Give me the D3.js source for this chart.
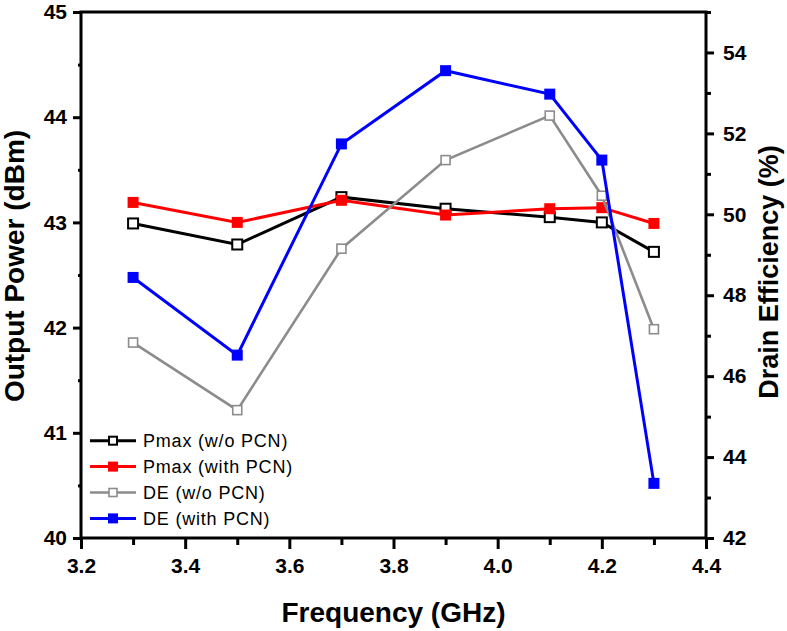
<!DOCTYPE html>
<html><head><meta charset="utf-8">
<script src="https://cdn.jsdelivr.net/npm/d3@7"></script>
<style>body{margin:0;background:#fff}</style>
</head><body><svg id="c" width="787" height="631"></svg>
<script>
const freq = [3.3, 3.5, 3.7, 3.9, 4.1, 4.2, 4.3];
const pmaxWo = [42.99, 42.79, 43.24, 43.13, 43.05, 43.0, 42.72];
const pmaxWith = [43.19, 43.0, 43.21, 43.07, 43.13, 43.14, 42.99];
const deWo = [46.83, 45.16, 49.15, 51.34, 52.44, 50.46, 47.16];
const deWith = [48.44, 46.52, 51.74, 53.55, 52.97, 51.34, 43.35];
const xTicks = [3.2, 3.4, 3.6, 3.8, 4.0, 4.2, 4.4];
const xMinor = [3.3, 3.5, 3.7, 3.9, 4.1, 4.3];
const yLeftTicks = [40, 41, 42, 43, 44, 45];
const yLeftMinor = [40.5, 41.5, 42.5, 43.5, 44.5];
const yRightTicks = [42, 44, 46, 48, 50, 52, 54];
const yRightMinor = [43, 45, 47, 49, 51, 53, 55];
const seriesNames = ["Pmax (w/o PCN)", "Pmax (with PCN)", "DE (w/o PCN)", "DE (with PCN)"];
const xTitle = "Frequency (GHz)";
const yLeftTitle = "Output Power (dBm)";
const yRightTitle = "Drain Efficiency (%)";

const svg = d3.select("#c");
const L = 81, R = 706, T = 12, B = 538;
const x = d3.scaleLinear().domain([3.2, 4.4]).range([L, R]);
const yL = d3.scaleLinear().domain([40, 45]).range([B, T]);
const yR = d3.scaleLinear().domain([42, 55]).range([B, T]);
const font = "'Liberation Sans', Arial, sans-serif";

const series = [
  {name: seriesNames[0], vals: pmaxWo, y: yL, color: "#000000", filled: false, size: 10, sw: 2, lw: 3},
  {name: seriesNames[1], vals: pmaxWith, y: yL, color: "#ff0000", filled: true, size: 11, sw: 0, lw: 3},
  {name: seriesNames[2], vals: deWo, y: yR, color: "#8c8c8c", filled: false, size: 9, sw: 1.6, lw: 2.6},
  {name: seriesNames[3], vals: deWith, y: yR, color: "#0000ff", filled: true, size: 11, sw: 0, lw: 3}
];

// lines and markers
series.forEach(s => {
  const line = d3.line().x((d, i) => x(freq[i])).y(d => s.y(d));
  svg.append("path").datum(s.vals).attr("d", line)
    .attr("fill", "none").attr("stroke", s.color).attr("stroke-width", s.lw);
  svg.selectAll(null).data(s.vals).enter().append("rect")
    .attr("x", (d, i) => x(freq[i]) - s.size / 2)
    .attr("y", d => s.y(d) - s.size / 2)
    .attr("width", s.size).attr("height", s.size)
    .attr("fill", s.filled ? s.color : "#fff")
    .attr("stroke", s.filled ? "none" : s.color)
    .attr("stroke-width", s.sw);
});

function styleAxis(g) {
  g.select(".domain").remove();
  g.selectAll("line").attr("stroke", "#000").attr("stroke-width", 3);
  g.selectAll("text").attr("font-family", font).attr("font-size", 21)
    .attr("font-weight", "bold").attr("fill", "#000");
}

// bottom axis
const gx = svg.append("g").attr("transform", `translate(0,${B})`)
  .call(d3.axisBottom(x).tickValues(xTicks).tickSize(11).tickPadding(9).tickFormat(d3.format(".1f")));
styleAxis(gx);
const gxm = svg.append("g").attr("transform", `translate(0,${B})`)
  .call(d3.axisBottom(x).tickValues(xMinor).tickSize(7).tickFormat(""));
styleAxis(gxm);

// left axis
const gl = svg.append("g").attr("transform", `translate(${L},0)`)
  .call(d3.axisLeft(yL).tickValues(yLeftTicks).tickSize(8).tickPadding(6).tickFormat(d3.format("d")));
styleAxis(gl);
const glm = svg.append("g").attr("transform", `translate(${L},0)`)
  .call(d3.axisLeft(yL).tickValues(yLeftMinor).tickSize(3).tickFormat(""));
styleAxis(glm);

// right axis
const gr = svg.append("g").attr("transform", `translate(${R},0)`)
  .call(d3.axisRight(yR).tickValues(yRightTicks).tickSize(8).tickPadding(9).tickFormat(d3.format("d")));
styleAxis(gr);
const grm = svg.append("g").attr("transform", `translate(${R},0)`)
  .call(d3.axisRight(yR).tickValues(yRightMinor).tickSize(5).tickFormat(""));
styleAxis(grm);

// frame
svg.append("rect").attr("x", L).attr("y", T).attr("width", R - L).attr("height", B - T)
  .attr("fill", "none").attr("stroke", "#000").attr("stroke-width", 3);

// titles
svg.append("text").attr("x", (L + R) / 2).attr("y", 622).attr("text-anchor", "middle")
  .attr("font-family", font).attr("font-size", 28).attr("font-weight", "bold").text(xTitle);
svg.append("text").attr("transform", "translate(24,266) rotate(-90)").attr("text-anchor", "middle")
  .attr("font-family", font).attr("font-size", 28).attr("font-weight", "bold").text(yLeftTitle);
svg.append("text").attr("transform", "translate(778,272) rotate(-90)").attr("text-anchor", "middle")
  .attr("font-family", font).attr("font-size", 27).attr("font-weight", "bold").text(yRightTitle);

// legend
const lg = svg.append("g");
series.forEach((s, i) => {
  const yy = 440.7 + i * 25.9;
  lg.append("line").attr("x1", 90).attr("x2", 136).attr("y1", yy).attr("y2", yy)
    .attr("stroke", s.color).attr("stroke-width", s.lw);
  const ms = s.filled ? 10 : 8;
  lg.append("rect").attr("x", 113 - ms / 2).attr("y", yy - ms / 2).attr("width", ms).attr("height", ms)
    .attr("fill", s.filled ? s.color : "#fff").attr("stroke", s.filled ? "none" : s.color)
    .attr("stroke-width", s.sw);
  lg.append("text").attr("x", 143).attr("y", yy).attr("dy", "0.35em")
    .attr("font-family", font).attr("font-size", 18).attr("letter-spacing", "0.8px")
    .attr("fill", "#000").text(s.name);
});
</script></body></html>
